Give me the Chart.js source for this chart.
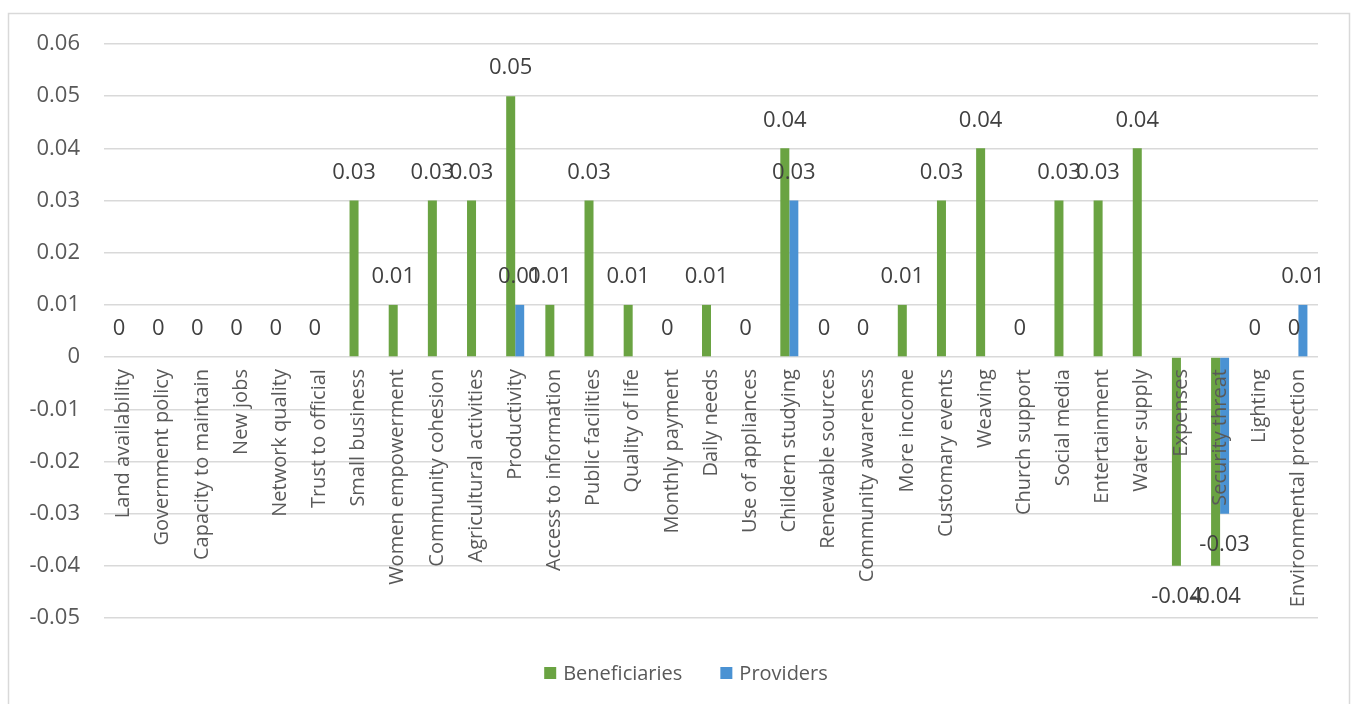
<!DOCTYPE html>
<html lang="en">
  <head>
    <meta charset="utf-8" />
    <title>Beneficiaries and Providers</title>
    <style>
      * {
        margin: 0;
        padding: 0;
      }
      body {
        background: white;
      }
      .chartCard {
        width: 1351px;
        height: 704px;
      }
    </style>
  </head>
  <body>
    <div class="chartCard">
      <canvas id="myChart" width="1351" height="704"></canvas>
    </div>

    <script src="https://cdn.jsdelivr.net/npm/chart.js@4.4.1/dist/chart.umd.min.js"></script>

    <script>
      const categories = [
        "Land availability", "Government policy", "Capacity to maintain", "New jobs",
        "Network quality", "Trust to official", "Small business", "Women empowerment",
        "Community cohesion", "Agricultural activities", "Productivity", "Access to information",
        "Public facilities", "Quality of life", "Monthly payment", "Daily needs",
        "Use of appliances", "Childern studying", "Renewable sources", "Community awareness",
        "More income", "Customary events", "Weaving", "Church support", "Social media",
        "Entertainment", "Water supply", "Expenses", "Security threat", "Lighting",
        "Environmental protection",
      ];
      const beneficiaries = [
        0, 0, 0, 0, 0, 0, 0.03, 0.01, 0.03, 0.03, 0.05, 0.01, 0.03, 0.01, 0, 0.01,
        0, 0.04, 0, 0, 0.01, 0.03, 0.04, 0, 0.03, 0.03, 0.04, -0.04, -0.04, 0, 0,
      ];
      const providers = [
        null, null, null, null, null, null, null, null, null, null, 0.01, null, null, null, null, null,
        null, 0.03, null, null, null, null, null, null, null, null, null, null, -0.03, null, 0.01,
      ];
      const yMin = -0.05;
      const yMax = 0.06;
      const yStep = 0.01;

      const FONT = "'Open Sans', sans-serif";

      // frame around the whole chart
      const chartFrame = {
        id: "chartFrame",
        beforeDraw(chart) {
          const { ctx, width, height } = chart;
          ctx.save();
          ctx.fillStyle = "#ffffff";
          ctx.fillRect(0, 0, width, height);
          ctx.strokeStyle = "#d9d9d9";
          ctx.lineWidth = 1.5;
          ctx.strokeRect(8.5, 13.5, width - 10, height + 20);
          ctx.restore();
        },
      };

      // value labels over / under each bar
      const valueLabels = {
        id: "valueLabels",
        afterDatasetsDraw(chart) {
          const { ctx } = chart;
          ctx.save();
          ctx.font = "22px " + FONT;
          ctx.fillStyle = "#404040";
          ctx.textAlign = "center";
          ctx.textBaseline = "middle";
          chart.data.datasets.forEach((ds, di) => {
            chart.getDatasetMeta(di).data.forEach((bar, i) => {
              const v = ds.data[i];
              if (v === null || v === undefined) return;
              const y = v >= 0 ? bar.y - 28 : bar.y + 31;
              ctx.fillText(String(v), bar.x, y);
            });
          });
          ctx.restore();
        },
      };

      // legend drawn at the bottom
      const bottomLegend = {
        id: "bottomLegend",
        afterDraw(chart) {
          const { ctx } = chart;
          ctx.save();
          ctx.font = "20px " + FONT;
          ctx.textBaseline = "middle";
          ctx.textAlign = "left";
          const box = 12, gap = 7, spacing = 38;
          const items = chart.data.datasets.map((ds) => ({
            label: ds.label,
            color: ds.backgroundColor,
            w: ctx.measureText(ds.label).width,
          }));
          const total = items.reduce((s, it) => s + box + gap + it.w, 0) + spacing * (items.length - 1);
          let x = 686 - total / 2;
          const y = 673;
          items.forEach((it) => {
            ctx.fillStyle = it.color;
            ctx.fillRect(x, y - box / 2, box, box);
            ctx.fillStyle = "#595959";
            ctx.fillText(it.label, x + box + gap, y + 1);
            x += box + gap + it.w + spacing;
          });
          ctx.restore();
        },
      };

      const data = {
        labels: categories,
        datasets: [
          {
            label: "Beneficiaries",
            data: beneficiaries,
            backgroundColor: "#6aa342",
            categoryPercentage: 0.46,
            barPercentage: 1,
          },
          {
            label: "Providers",
            data: providers,
            backgroundColor: "#4a92d3",
            categoryPercentage: 0.46,
            barPercentage: 1,
          },
        ],
      };

      const config = {
        type: "bar",
        data: data,
        options: {
          responsive: false,
          animation: false,
          layout: {
            padding: { top: 44, right: 33, bottom: 86, left: 0 },
          },
          plugins: {
            legend: { display: false },
            tooltip: { enabled: false },
          },
          scales: {
            x: {
              position: { y: 0 },
              grid: { display: false, drawTicks: false },
              border: { display: false },
              ticks: {
                z: 1, // category names drawn over the bars
                autoSkip: false,
                maxRotation: 90,
                minRotation: 90,
                padding: 12,
                color: "#595959",
                font: { family: FONT, size: 20 },
              },
            },
            y: {
              min: yMin,
              max: yMax,
              afterFit(scale) {
                scale.width = 104;
              },
              grid: { color: "#d9d9d9", lineWidth: 1.5, drawTicks: false },
              border: { display: false },
              ticks: {
                stepSize: yStep,
                padding: 24,
                color: "#595959",
                font: { family: FONT, size: 22 },
                callback: (v) => String(+v.toFixed(2)),
              },
            },
          },
        },
        plugins: [chartFrame, valueLabels, bottomLegend],
      };

      const myChart = new Chart(document.getElementById("myChart"), config);
    </script>
  </body>
</html>
